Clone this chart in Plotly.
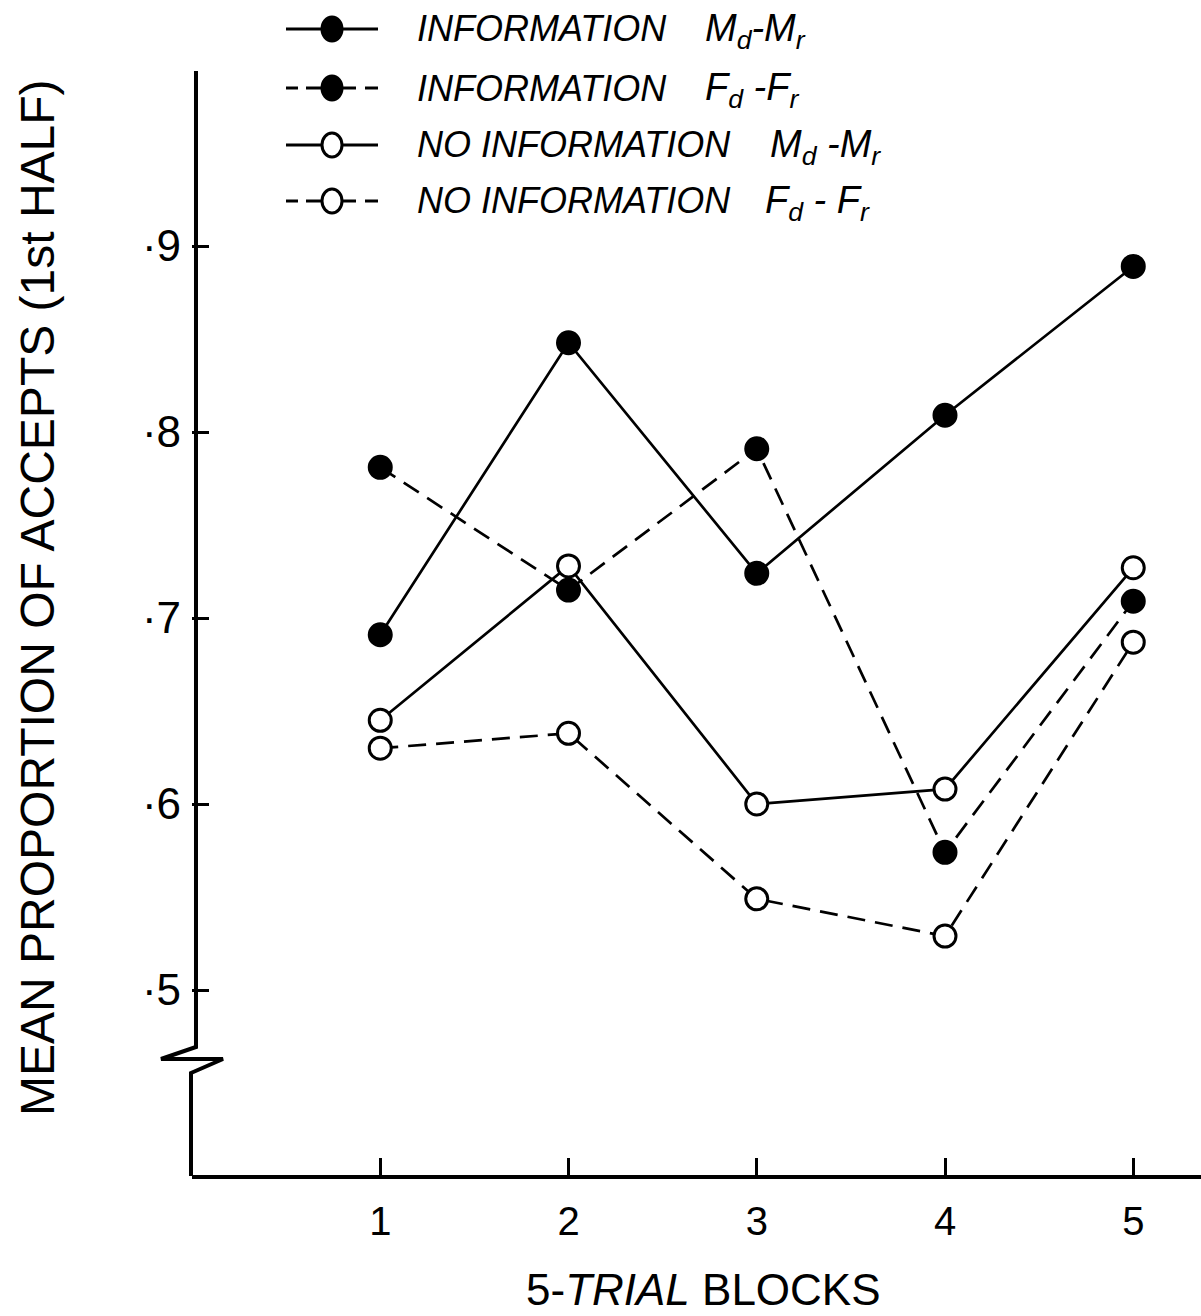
import plotly.graph_objects as go

# ---------------- data ----------------
blocks = [1, 2, 3, 4, 5]
info_md_mr = [0.691, 0.848, 0.724, 0.809, 0.889]
info_fd_fr = [0.781, 0.715, 0.791, 0.574, 0.709]
noinfo_md_mr = [0.645, 0.728, 0.600, 0.608, 0.727]
noinfo_fd_fr = [0.630, 0.638, 0.549, 0.529, 0.687]

y_tickvals = [0.5, 0.6, 0.7, 0.8, 0.9]
y_ticktext = ["·5", "·6", "·7", "·8", "·9"]
x_tickvals = [1, 2, 3, 4, 5]
x_ticktext = ["1", "2", "3", "4", "5"]

legend_labels = ["INFORMATION", "INFORMATION", "NO INFORMATION", "NO INFORMATION"]
legend_groups = ["M<sub>d</sub>-M<sub>r</sub>", "F<sub>d</sub> -F<sub>r</sub>",
                 "M<sub>d</sub> -M<sub>r</sub>", "F<sub>d</sub> - F<sub>r</sub>"]

# ---------------- layout geometry (pixels) ----------------
W, H = 1201, 1316
L, R, T, B = 192, 0, 71, 141
PW, PH = W - L - R, H - T - B


def px(x):
    return (x - L) / PW


def py(y):
    return (H - B - y) / PH


FONT = "Liberation Sans, Arial, Helvetica, sans-serif"
BLACK = "black"

series = [
    (info_md_mr, "solid", BLACK, "INFORMATION Md-Mr"),
    (info_fd_fr, "18px,10px", BLACK, "INFORMATION Fd-Fr"),
    (noinfo_md_mr, "solid", "white", "NO INFORMATION Md-Mr"),
    (noinfo_fd_fr, "18px,10px", "white", "NO INFORMATION Fd-Fr"),
]

fig = go.Figure()
for vals, dash, fill, name in series:
    fig.add_trace(go.Scatter(
        x=blocks, y=vals, mode="lines+markers", name=name,
        line=dict(color=BLACK, width=2.7, dash=dash),
        marker=dict(size=22, color=fill, line=dict(color=BLACK, width=3)),
        showlegend=False, cliponaxis=False,
    ))

shapes = []
# y axis with break (zig-zag)
axis_pts = [(196, 71), (196, 1047), (161, 1059), (223, 1059), (191, 1073), (191, 1176)]
path = "M " + " L ".join(f"{px(x):.5f},{py(y):.5f}" for x, y in axis_pts)
shapes.append(dict(type="path", xref="paper", yref="paper", path=path,
                   line=dict(color=BLACK, width=4)))

# manual legend
rows_y = [29, 88, 145, 201]
styles = [("solid", BLACK), ("dash", BLACK), ("solid", "white"), ("dash", "white")]
for ry, (dash, fill) in zip(rows_y, styles):
    if dash == "solid":
        shapes.append(dict(type="line", xref="paper", yref="paper",
                           x0=px(286), x1=px(378), y0=py(ry), y1=py(ry),
                           line=dict(color=BLACK, width=3)))
    else:
        for a, b in [(286, 298), (306, 321), (343, 356), (365, 378)]:
            shapes.append(dict(type="line", xref="paper", yref="paper",
                               x0=px(a), x1=px(b), y0=py(ry), y1=py(ry),
                               line=dict(color=BLACK, width=3)))
    shapes.append(dict(type="circle", xref="paper", yref="paper",
                       x0=px(322), x1=px(342), y0=py(ry + 12), y1=py(ry - 12),
                       fillcolor=fill, line=dict(color=BLACK, width=3)))

annotations = []
grp_x = [703, 703, 768, 763]
for ry, lab, grp, gx in zip(rows_y, legend_labels, legend_groups, grp_x):
    annotations.append(dict(xref="paper", yref="paper", x=px(415), y=py(ry),
                            text=f"<i>{lab}</i>", showarrow=False,
                            xanchor="left", yanchor="middle",
                            font=dict(family=FONT, size=36, color=BLACK)))
    annotations.append(dict(xref="paper", yref="paper", x=px(gx), y=py(ry + 2),
                            text=f"<i>{grp}</i>", showarrow=False,
                            xanchor="left", yanchor="middle",
                            font=dict(family=FONT, size=38, color=BLACK)))

# axis titles
annotations.append(dict(xref="paper", yref="paper", x=px(37), y=py(598),
                        text="MEAN PROPORTION OF ACCEPTS (1st HALF)", textangle=-90,
                        showarrow=False, xanchor="center", yanchor="middle",
                        font=dict(family=FONT, size=48, color=BLACK)))
annotations.append(dict(xref="paper", yref="paper", x=px(703), y=py(1289),
                        text="5-<i>TRIAL</i> BLOCKS",
                        showarrow=False, xanchor="center", yanchor="middle",
                        font=dict(family=FONT, size=44, color=BLACK)))

fig.update_layout(
    width=W, height=H,
    margin=dict(l=L, r=R, t=T, b=B),
    paper_bgcolor="white", plot_bgcolor="white",
    shapes=shapes, annotations=annotations,
    showlegend=False,
)
fig.update_xaxes(
    range=[0, PW / 188.25], showgrid=False, zeroline=False,
    showline=True, linecolor=BLACK, linewidth=4,
    tickmode="array", tickvals=x_tickvals, ticktext=x_ticktext,
    ticks="inside", ticklen=17, tickwidth=3, tickcolor=BLACK,
    ticklabelstandoff=8,
    tickfont=dict(family=FONT, size=40, color=BLACK),
)
fig.update_yaxes(
    range=[0.5 - (H - B - 990) / 1860, 0.5 + (990 - T) / 1860],
    showgrid=False, zeroline=False, showline=False,
    tickmode="array", tickvals=y_tickvals, ticktext=y_ticktext,
    ticks="inside", ticklen=17, tickwidth=3, tickcolor=BLACK,
    ticklabelstandoff=10,
    tickfont=dict(family=FONT, size=44, color=BLACK),
)

fig.write_html("out.html", config={"displayModeBar": False},
               post_script="document.body.style.margin='0';document.body.style.overflow='hidden';")
